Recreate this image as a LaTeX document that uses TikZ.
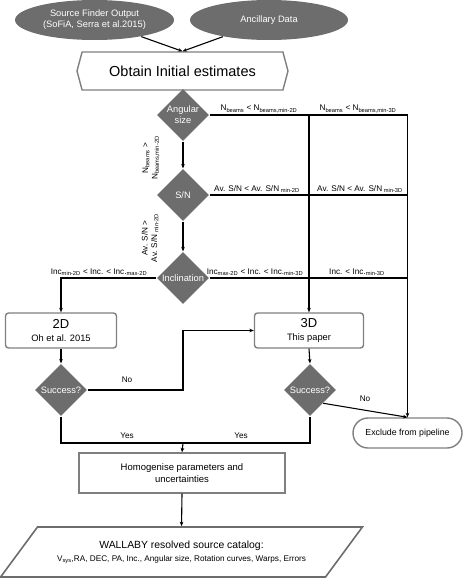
\documentclass[tikz,border=0pt]{standalone}
\usepackage{fontspec}
\setmainfont{Liberation Sans}
\usetikzlibrary{shapes.geometric,shapes.misc,shapes.symbols,arrows.meta}
\definecolor{dg}{HTML}{6D6D6D}
\definecolor{bx}{HTML}{7F7F7F}
\begin{document}
\begin{tikzpicture}[x=1pt,y=-1pt,
  line width=1.1pt,
  >={Stealth[length=4.5pt,width=3.6pt]},
  ell/.style={ellipse, fill=dg, text=white, minimum width=159pt, minimum height=40pt, inner sep=0pt, align=center, font=\fontsize{9.3}{11}\selectfont},
  dtext/.style={text=white, align=center, inner sep=0pt, font=\fontsize{9.3}{11}\selectfont},
  dia/.style={diamond, fill=dg, minimum width=52pt, minimum height=52pt, inner sep=0pt, label={[dtext]center:#1}},
  box/.style={draw=bx, line width=1.4pt, rounded corners=3pt, align=center, inner sep=0pt},
  lab/.style={font=\fontsize{8.2}{9}\selectfont, inner sep=1.5pt},
  rlab/.style={font=\fontsize{8.2}{9.5}\selectfont, inner sep=0pt, rotate=90, align=center},
]
\useasboundingbox (0,0) rectangle (463,581);

% top ellipses
\node[ell] (src) at (94.5,20) {Source Finder Output\\(SoFiA, Serra et al.2015)};
\node[ell, minimum width=158pt] (anc) at (269,20) {Ancillary Data};

% hexagon
\node[signal, signal to=west and east, signal pointer angle=150, draw=bx, line width=1.4pt,
      minimum width=211pt, minimum height=38pt, inner sep=0pt,
      font=\fontsize{14.5}{16}\selectfont] (obt) at (182.5,71) {Obtain Initial estimates};

\draw[->] (src) -- (obt.north);
\draw[->] (anc) -- (obt.north);

% decision diamonds
\node[dia={Angular\\size}] (ang) at (183,115) {};
\node[dia={S/N}] (sn) at (183,195) {};
\node[dia={Inclination}] (inc) at (183,278) {};

% processing boxes
\node[box, minimum width=111pt, minimum height=35pt] (b2d) at (61,330.5)
  {{\fontsize{13}{14}\selectfont 2D}\\[1pt]{\fontsize{9.3}{11}\selectfont Oh et al. 2015}};
\node[box, minimum width=109pt, minimum height=35pt] (b3d) at (309,330.5)
  {{\fontsize{13}{14}\selectfont 3D}\\[1pt]{\fontsize{9.3}{11}\selectfont This paper}};

\node[dia={Success?}] (s2) at (61,390) {};
\node[dia={Success?}] (s3) at (310,390) {};

\node[rounded rectangle, draw=bx, line width=1.4pt, minimum width=109pt, minimum height=30pt,
      inner sep=0pt, font=\fontsize{8.8}{10}\selectfont] (exc) at (407.5,433) {Exclude from pipeline};

\node[draw=bx, line width=1.4pt, minimum width=206pt, minimum height=40pt, align=center, inner sep=0pt,
      font=\fontsize{9.5}{12.5}\selectfont] (hom) at (182,473) {Homogenise parameters and\\uncertainties};

\node[trapezium, trapezium stretches=true, trapezium left angle=35.5, trapezium right angle=144.5,
      draw=bx!85!black, line width=1.6pt, minimum width=363pt, minimum height=50pt, inner sep=0pt,
      align=center] (cat) at (181.5,552)
  {{\fontsize{10.4}{12}\selectfont WALLABY resolved source catalog:}\\[1pt]
   {\fontsize{8.2}{10}\selectfont V\textsubscript{sys},RA, DEC, PA, Inc., Angular size, Rotation curves, Warps, Errors}};

% junctions
\coordinate (a3) at (309,115);
\coordinate (aR) at (407.5,115);
\coordinate (nj) at (183,390);
\coordinate (yj) at (183,443);

% connectors
\draw (ang.east) -- (aR);
\draw[->] (a3) -- (b3d.north);
\draw[->] (aR) -- (exc.north);
\draw (sn.east) -- (sn.east -| aR);
\draw (inc.east) -- (inc.east -| aR);
\draw[->] (inc.west) -| (b2d.north);
\draw[->] (ang.south) -- (sn.north);
\draw[->] (sn.south) -- (inc.north);
\draw[->] (b2d.south) -- (s2.north);
\draw[->] (b3d.south) -- (s3.north);
\draw[->] (s2.east) -- (nj) |- (b3d.west);
\draw[->] (s3.south east) -- (exc.north);
\draw (s2.south) |- (yj) -| (s3.south);
\draw[->] (yj) -- (hom.north);
\draw[->] (hom.south) -- (cat.north);

% labels
\node[lab, anchor=south] (l1) at (259,115) {N\textsubscript{beams} < N\textsubscript{beams,min-2D}};
\node[lab, anchor=south] (l2) at (358,115) {N\textsubscript{beams} < N\textsubscript{beams,min-3D}};
\node[lab, anchor=south] (l3) at (257,195) {Av. S/N < Av. S/N\textsubscript{ min-2D}};
\node[lab, anchor=south] (l4) at (360,195) {Av. S/N < Av. S/N\textsubscript{ min-3D}};
\node[lab, anchor=south] (l5) at (99,278) {Inc\textsubscript{min-2D} < Inc. < Inc.\textsubscript{max-2D}};
\node[lab, anchor=south] (l6) at (255,278) {Inc\textsubscript{max-2D} < Inc. < Inc.\textsubscript{min-3D}};
\node[lab, anchor=south] (l7) at (357,278) {Inc. < Inc.\textsubscript{min-3D}};
\node[rlab] (r1) at (151,158) {N\textsubscript{beams} >\\N\textsubscript{beams,min-2D}};
\node[rlab] (r2) at (150,238) {Av. S/N >\\Av. S/N\textsubscript{ min-2D}};
\node[lab] (no1) at (127,380) {No};
\node[lab] (no2) at (365,399) {No};
\node[lab] (y1) at (127,436) {Yes};
\node[lab] (y2) at (241,436) {Yes};
\end{tikzpicture}
\end{document}
